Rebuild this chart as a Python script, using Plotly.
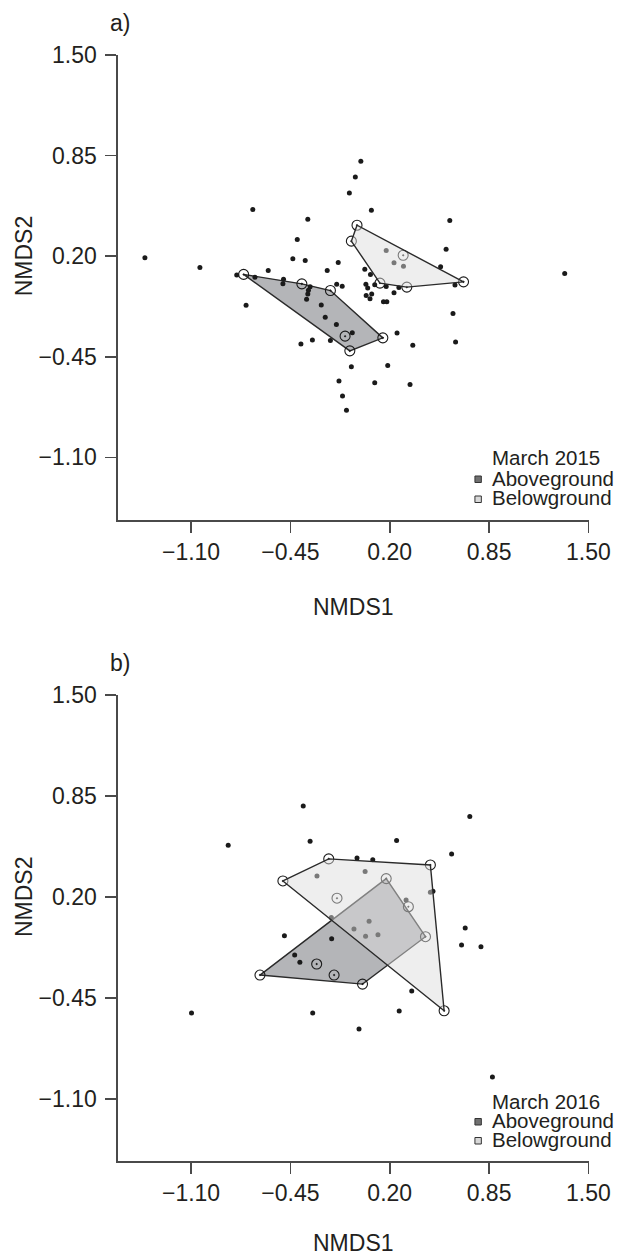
import plotly.graph_objects as go

# ---------------- data ----------------
tick_vals = [-1.10, -0.45, 0.20, 0.85, 1.50]
tick_text = ["\u22121.10", "\u22120.45", "0.20", "0.85", "1.50"]

# Panel a (March 2015)
a_species_x = [0.011, -0.025, -0.064, -0.696, 0.080, -0.336, 0.593, -0.405, 0.569, -1.402,
               -0.434, -0.353, -0.137, -1.042, -0.209, -0.595, 0.037, 0.074, 0.533, -0.801,
               -0.682, -0.495, -0.499, -0.321, -0.332, -0.336, -0.344, -0.147, -0.111, 0.044,
               0.056, 0.102, 0.177, 0.260, 0.228, 0.046, 0.082, 0.071, 0.159, 0.181,
               -0.248, -0.740, -0.222, -0.149, 0.614, -0.045, 0.248, -0.381, -0.306, -0.188,
               0.351, 0.631, -0.051, 0.187, -0.132, 0.102, 0.333, -0.109, -0.083, 0.627,
               1.345, 0.177, 0.228, 0.290]
a_species_y = [0.814, 0.712, 0.609, 0.502, 0.497, 0.439, 0.431, 0.308, 0.245, 0.189,
               0.183, 0.172, 0.159, 0.127, 0.108, 0.108, 0.116, 0.082, 0.131, 0.079,
               0.064, 0.051, 0.021, 0.002, -0.020, -0.045, -0.078, 0.019, 0.006, 0.019,
               -0.005, 0.015, 0.004, -0.002, -0.037, -0.054, -0.044, -0.076, -0.095, -0.095,
               -0.115, -0.118, -0.194, -0.241, -0.170, -0.295, -0.297, -0.367, -0.341, -0.345,
               -0.375, -0.354, -0.515, -0.506, -0.607, -0.618, -0.629, -0.704, -0.795, 0.013,
               0.088, 0.237, 0.157, 0.135]
a_above_x = [-0.756, -0.375, -0.188, 0.155, -0.061, -0.092]
a_above_y = [0.082, 0.021, -0.022, -0.328, -0.412, -0.317]
a_below_x = [-0.014, 0.683, 0.312, 0.136, -0.051, 0.288]
a_below_y = [0.400, 0.034, 0.000, 0.026, 0.297, 0.206]

# Panel b (March 2016)
b_species_x = [-0.366, 0.724, -0.857, -0.321, 0.245, 0.605, -0.014, 0.089, -0.276, 0.039,
               0.483, 0.466, 0.307, -0.182, -0.034, 0.065, 0.042, 0.123, -0.489, -0.180,
               -0.422, -0.388, 0.694, 0.670, 0.797, 0.344, 0.262, -1.097, -0.304, -0.001, 0.872]
b_species_y = [0.785, 0.718, 0.533, 0.559, 0.563, 0.477, 0.450, 0.439, 0.335, 0.363,
               0.237, 0.230, 0.181, 0.067, -0.006, 0.043, -0.053, -0.043, -0.050, -0.069,
               -0.174, -0.221, 0.000, -0.109, -0.120, -0.406, -0.535, -0.548, -0.548, -0.651, -0.959]
b_above_x = [-0.649, 0.177, 0.434, 0.022, -0.278, -0.164]
b_above_y = [-0.303, 0.318, -0.056, -0.361, -0.232, -0.303]
b_below_x = [-0.499, -0.199, 0.466, 0.556, -0.145, 0.322]
b_below_y = [0.303, 0.445, 0.406, -0.533, 0.192, 0.137]

panel_titles = ["March 2015", "March 2016"]
panel_letters = ["a)", "b)"]
group_names = ["Aboveground", "Belowground"]

# ---------------- helpers ----------------
def convex_hull(xs, ys):
    pts = sorted(set(zip(xs, ys)))
    def cross(o, a, b):
        return (a[0]-o[0])*(b[1]-o[1]) - (a[1]-o[1])*(b[0]-o[0])
    lower = []
    for p in pts:
        while len(lower) >= 2 and cross(lower[-2], lower[-1], p) <= 0:
            lower.pop()
        lower.append(p)
    upper = []
    for p in reversed(pts):
        while len(upper) >= 2 and cross(upper[-2], upper[-1], p) <= 0:
            upper.pop()
        upper.append(p)
    h = lower[:-1] + upper[:-1]
    h.append(h[0])
    return [p[0] for p in h], [p[1] for p in h]

W, H = 623, 1255
ML, MR, MT, MB = 118, 26, 55, 94
PW, PH = W - ML - MR, H - MT - MB

def pxx(px):
    return (px - ML) / PW

def pxy(py):
    return (H - MB - py) / PH

TXT = "#231f20"
AX = "#4a4a4a"
FONT = "Liberation Sans, Arial, Helvetica, sans-serif"
ABOVE_FILL = "#b4b5b8"
BELOW_FILL = "rgba(220,220,220,0.49)"
HULL_LINE = "#2a2a2a"
DOT = "#1a1a1a"

fig = go.Figure()

panels = [
    (a_species_x, a_species_y, a_above_x, a_above_y, a_below_x, a_below_y, "x", "y"),
    (b_species_x, b_species_y, b_above_x, b_above_y, b_below_x, b_below_y, "x2", "y2"),
]

for sx, sy, ax_, ay_, bx_, by_, xr, yr in panels:
    hx, hy = convex_hull(ax_, ay_)
    fig.add_trace(go.Scatter(x=hx, y=hy, mode="lines", fill="toself", fillcolor=ABOVE_FILL,
                             line=dict(color=HULL_LINE, width=1.4), xaxis=xr, yaxis=yr,
                             hoverinfo="skip", showlegend=False))
    fig.add_trace(go.Scatter(x=sx, y=sy, mode="markers",
                             marker=dict(size=5, color=DOT, line=dict(width=0)),
                             xaxis=xr, yaxis=yr, hoverinfo="skip", showlegend=False))
    fig.add_trace(go.Scatter(x=ax_ + bx_, y=ay_ + by_, mode="markers",
                             marker=dict(symbol="circle-open-dot", size=10, color=DOT,
                                         line=dict(width=1.1, color=DOT)),
                             xaxis=xr, yaxis=yr, hoverinfo="skip", showlegend=False))
    hx, hy = convex_hull(bx_, by_)
    fig.add_trace(go.Scatter(x=hx, y=hy, mode="lines", fill="toself", fillcolor=BELOW_FILL,
                             line=dict(color=HULL_LINE, width=1.4), xaxis=xr, yaxis=yr,
                             hoverinfo="skip", showlegend=False))

axis_common = dict(showline=True, linecolor=AX, linewidth=1.6, mirror=False,
                   ticks="outside", ticklen=11, tickwidth=1.6, tickcolor=AX,
                   showgrid=False, zeroline=False, tickvals=tick_vals, ticktext=tick_text,
                   tickfont=dict(family=FONT, size=23, color=TXT), fixedrange=True)
yaxis_extra = dict(ticklabelstandoff=4)

XR = [-1.578, 1.504]
fig.update_layout(
    width=W, height=H,
    margin=dict(l=ML, r=MR, t=MT, b=MB, pad=0),
    paper_bgcolor="white", plot_bgcolor="white",
    xaxis=dict(domain=[0, 1], range=XR, anchor="y", **axis_common),
    yaxis=dict(domain=[pxy(520), 1], range=[-1.505, 1.50], anchor="x", **axis_common, **yaxis_extra),
    xaxis2=dict(domain=[0, 1], range=XR, anchor="y2", **axis_common),
    yaxis2=dict(domain=[0, pxy(695)], range=[-1.50, 1.50], anchor="x2", **axis_common, **yaxis_extra),
    showlegend=False,
)

annotations = []
shapes = []
# layout of text (pixel positions)
panel_px = [
    dict(letter_y=23, xtitle_y=607, ytitle_ref="y", leg=[457, 478, 498]),
    dict(letter_y=663, xtitle_y=1243, ytitle_ref="y2", leg=[1101, 1120.5, 1139.5]),
]
for i, p in enumerate(panel_px):
    annotations.append(dict(text=panel_letters[i], x=pxx(108), y=pxy(p["letter_y"]),
                            xref="paper", yref="paper", xanchor="left", yanchor="middle",
                            showarrow=False, font=dict(family=FONT, size=23, color=TXT)))
    annotations.append(dict(text="NMDS1", x=0.5, y=pxy(p["xtitle_y"]),
                            xref="paper", yref="paper", xanchor="center", yanchor="middle",
                            showarrow=False, font=dict(family=FONT, size=23, color=TXT)))
    annotations.append(dict(text="NMDS2", x=pxx(22.5), y=0.20, xref="paper", yref=p["ytitle_ref"],
                            xanchor="center", yanchor="middle", textangle=-90,
                            showarrow=False, font=dict(family=FONT, size=23, color=TXT)))
    annotations.append(dict(text=panel_titles[i], x=pxx(496), y=pxy(p["leg"][0]),
                            xref="paper", yref="paper", xanchor="left", yanchor="middle",
                            showarrow=False, font=dict(family=FONT, size=20.5, color=TXT)))
    for j, (name, fillc) in enumerate(zip(group_names, ["#707070", "#d8d8d8"])):
        yc = p["leg"][j + 1]
        annotations.append(dict(text=name, x=pxx(496), y=pxy(yc),
                                xref="paper", yref="paper", xanchor="left", yanchor="middle",
                                showarrow=False, font=dict(family=FONT, size=20.5, color=TXT)))
        shapes.append(dict(type="rect", xref="paper", yref="paper",
                           x0=pxx(481), x1=pxx(487.5), y0=pxy(yc + 4.5), y1=pxy(yc - 2),
                           fillcolor=fillc, line=dict(color="#333333", width=1)))

fig.update_layout(annotations=annotations, shapes=shapes)
fig.write_html("out.html",
               config={"displayModeBar": False, "staticPlot": True},
               post_script="document.body.style.margin='0';document.body.style.padding='0';"
                           "document.body.style.overflow='hidden';")
